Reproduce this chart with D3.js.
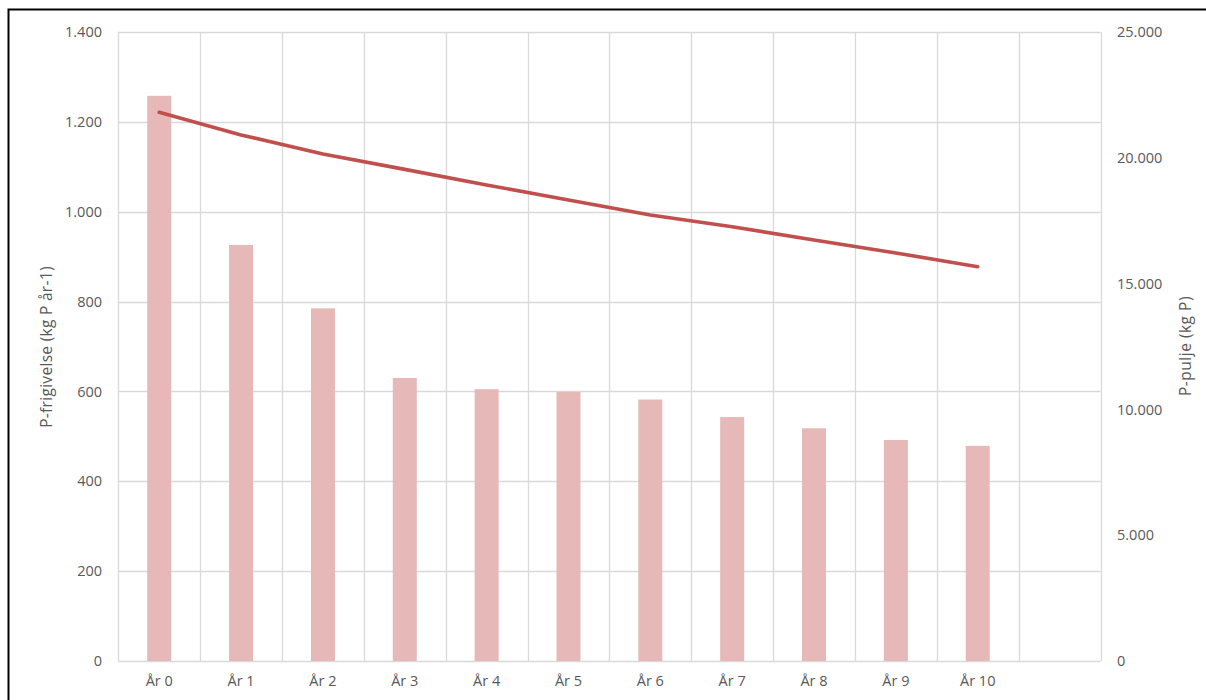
<!DOCTYPE html>
<html>
<head>
<meta charset="utf-8">
<script src="https://cdn.jsdelivr.net/npm/d3@7"></script>
<style>
  html, body { margin: 0; padding: 0; background: #fff; }
  svg { display: block; font-family: "Open Sans", "Noto Sans", sans-serif; }
</style>
</head>
<body>
<svg id="chart" width="1206" height="700"></svg>
<script>
// ---- data ----
const categories = ["År 0", "År 1", "År 2", "År 3", "År 4", "År 5", "År 6", "År 7", "År 8", "År 9", "År 10"];
const releaseValues = [1258, 926, 785, 630, 605, 599, 582, 543, 518, 492, 479];      // P-frigivelse (bars, left axis)
const poolValues = [21810, 20910, 20150, 19540, 18920, 18320, 17730, 17260, 16730, 16220, 15670]; // P-pulje (line, right axis)
const leftTicks = [0, 200, 400, 600, 800, 1000, 1200, 1400];
const rightTicks = [0, 5000, 10000, 15000, 20000, 25000];
const leftTitle = "P-frigivelse (kg P år-1)";
const rightTitle = "P-pulje (kg P)";

// ---- layout ----
const svg = d3.select("#chart");
const plot = { left: 118.3, right: 1100.5, top: 32, bottom: 661 };
const textColor = "#595959";
const gridColor = "#d9d9d9";
const fontSize = "14.5px";
const titleSize = "15.5px";

const locale = d3.formatLocale({ decimal: ",", thousands: ".", grouping: [3], currency: ["", " kr"] });
const fmt = locale.format(",d");

// band domain includes one empty trailing slot (as in the original chart)
const domain = categories.concat([""]);
const x = d3.scaleBand().domain(domain).range([plot.left, plot.right]).paddingInner(0).paddingOuter(0);
const yL = d3.scaleLinear().domain([0, 1400]).range([plot.bottom, plot.top]);
const yR = d3.scaleLinear().domain([0, 25000]).range([plot.bottom, plot.top]);

// outer border
svg.append("rect")
  .attr("x", 8.5).attr("y", 9.5)
  .attr("width", 1230).attr("height", 720)
  .attr("fill", "none").attr("stroke", "#000").attr("stroke-width", 2);

// horizontal gridlines
svg.append("g").selectAll("line").data(leftTicks).join("line")
  .attr("x1", plot.left).attr("x2", plot.right)
  .attr("y1", d => Math.round(yL(d)) + 0.5).attr("y2", d => Math.round(yL(d)) + 0.5)
  .attr("stroke", gridColor).attr("stroke-width", 1.3);

// vertical gridlines at band boundaries
const bounds = domain.map(d => x(d)).concat([x(domain[domain.length - 1]) + x.bandwidth()]);
svg.append("g").selectAll("line").data(bounds).join("line")
  .attr("x1", d => Math.round(d) + 0.5).attr("x2", d => Math.round(d) + 0.5)
  .attr("y1", plot.top).attr("y2", plot.bottom)
  .attr("stroke", gridColor).attr("stroke-width", 1.3);

// bars
const barW = 24;
svg.append("g").selectAll("rect").data(releaseValues).join("rect")
  .attr("x", (d, i) => x(categories[i]) + x.bandwidth() / 2 - barW / 2)
  .attr("y", d => yL(d))
  .attr("width", barW)
  .attr("height", d => yL(0) - yL(d))
  .attr("fill", "#e6b9b8");

// line
const line = d3.line()
  .x((d, i) => x(categories[i]) + x.bandwidth() / 2)
  .y(d => yR(d));
svg.append("path")
  .datum(poolValues)
  .attr("d", line)
  .attr("fill", "none")
  .attr("stroke", "#c0504d")
  .attr("stroke-width", 3.6)
  .attr("stroke-linecap", "round")
  .attr("stroke-linejoin", "round");

// left axis labels
const leftAxis = d3.axisLeft(yL).tickValues(leftTicks).tickFormat(fmt).tickSize(0).tickPadding(0);
const gL = svg.append("g").attr("transform", `translate(102,0)`).call(leftAxis);
gL.select(".domain").remove();
gL.selectAll("text").attr("fill", textColor).style("font-size", fontSize).style("font-family", "Open Sans");

// right axis labels
const rightAxis = d3.axisRight(yR).tickValues(rightTicks).tickFormat(fmt).tickSize(0).tickPadding(0);
const gR = svg.append("g").attr("transform", `translate(1117,0)`).call(rightAxis);
gR.select(".domain").remove();
gR.selectAll("text").attr("fill", textColor).style("font-size", fontSize).style("font-family", "Open Sans");

// bottom axis labels
const bottomAxis = d3.axisBottom(x).tickValues(categories).tickSize(0).tickPadding(0);
const gB = svg.append("g").attr("transform", `translate(0,676)`).call(bottomAxis);
gB.select(".domain").remove();
gB.selectAll("text").attr("fill", textColor).style("font-size", fontSize).style("font-family", "Open Sans").attr("dy", "0.71em");

// axis titles
svg.append("text")
  .attr("transform", "translate(52,347) rotate(-90)")
  .attr("text-anchor", "middle")
  .attr("fill", textColor)
  .style("font-size", titleSize)
  .style("letter-spacing", "0.3px")
  .text(leftTitle);

svg.append("text")
  .attr("transform", "translate(1191,346) rotate(-90)")
  .attr("text-anchor", "middle")
  .attr("fill", textColor)
  .style("font-size", titleSize)
  .style("letter-spacing", "0.5px")
  .text(rightTitle);
</script>
</body>
</html>
